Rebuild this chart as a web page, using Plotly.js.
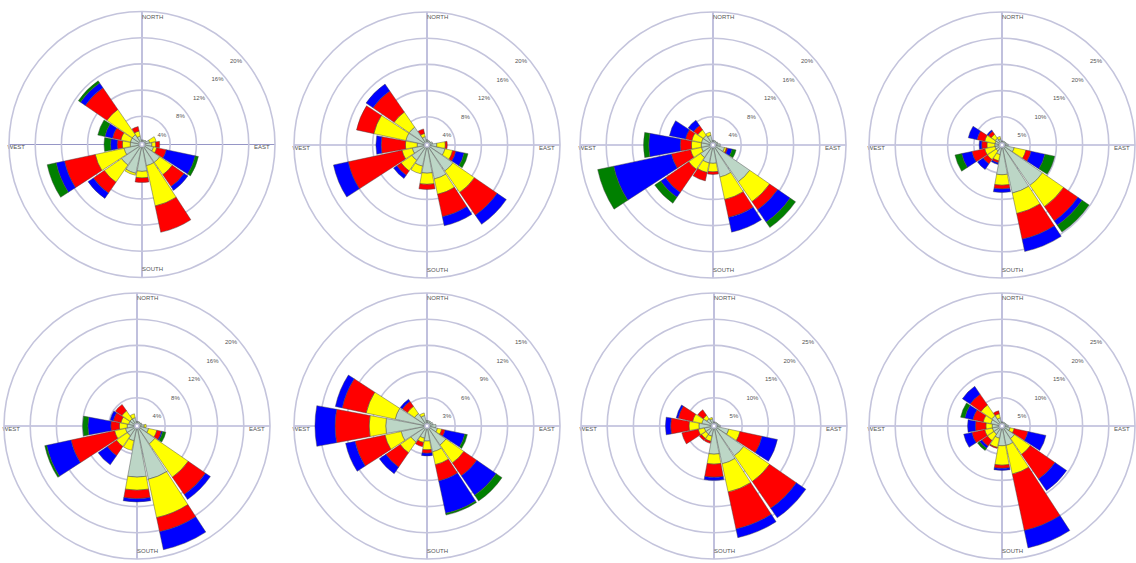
<!DOCTYPE html>
<html>
<head>
<meta charset="utf-8">
<script src="https://cdn.plot.ly/plotly-3.0.1.min.js"></script>
<style>
  html, body { margin: 0; padding: 0; background: #ffffff; }
  #chart { width: 1136px; height: 563px; }
</style>
</head>
<body>
<div id="chart"></div>
<script>
// Sixteen compass sectors, clockwise from north
const directions = ['N','NNE','NE','ENE','E','ESE','SE','SSE','S','SSW','SW','WSW','W','WNW','NW','NNW'];
const compassNames = ['NORTH', 'EAST', 'SOUTH', 'WEST'];

// Frequency (%) per sector for each speed class, one group per rose
const rose1Calm   = [0.4,0.4,0.5,0.9,1.2,1.5,3.0,3.0,3.8,4.2,3.5,2.5,1.5,1.5,1.5,1.0];
const rose1Light  = [0,0,0,1.0,0.6,0.5,2.3,6.3,1.0,0.3,3.2,4.5,1.2,1.5,4.7,0.8];
const rose1Mod    = [0,0,0,0,0.6,1.5,2.2,4.1,0.7,0,2.0,4.8,0.8,1.3,4.0,0.7];
const rose1Fresh  = [0,0,0,0,0,4.5,0.7,0,0,0,1.0,1.3,1.0,1.2,0.9,0];
const rose1Strong = [0,0,0,0,0,0.5,0,0,0,0,0,1.4,1.0,1.1,0.4,0];

const rose2Calm   = [0.5,0.4,0.4,0.6,1.2,2.5,4.5,5.0,4.0,3.0,2.5,2.0,1.2,3.0,3.0,1.0];
const rose2Light  = [0,0,0,0,1.3,1.2,4.0,2.4,1.7,1.2,2.0,1.6,1.8,5.0,2.8,0.5];
const rose2Mod    = [0,0,0,0,0.3,0.5,4.2,3.5,0.8,0,0.8,8.4,3.7,2.7,3.9,0.7];
const rose2Fresh  = [0,0,0,0,0,1.3,1.7,1.4,0,0,0.6,2.3,0.8,0,1.3,0];
const rose2Strong = [0,0,0,0,0,0.6,0,0,0,0,0,0,0,0,0,0];

const rose3Calm   = [0.4,0.4,0.4,0.5,0.8,1.5,6.5,4.7,2.5,2.5,2.0,1.5,1.5,1.5,1.5,1.2];
const rose3Light  = [0,0,0,0,0,0.3,3.7,3.5,1.3,1.5,2.2,1.7,1.5,1.5,1.0,0.5];
const rose3Mod    = [0,0,0,0,0,0.2,1.5,2.8,0.4,1.3,4.3,3.0,1.7,1.0,0.8,0];
const rose3Fresh  = [0,0,0,0,0,0.7,2.3,2.3,0,0,0.9,9.0,4.8,2.5,1.0,0];
const rose3Strong = [0,0,0,0,0,0.6,1.0,0,0,0,1.1,2.5,0.8,0,0,0];

const rose4Calm   = [0.4,0.4,0.4,0.5,0.8,2.0,9.0,9.0,5.3,1.5,1.0,1.0,1.0,1.0,1.2,0.8];
const rose4Light  = [0,0,0,0,0,2.3,4.9,4.0,2.0,1.2,2.0,2.0,1.5,2.0,0.9,0.5];
const rose4Mod    = [0,0,0,0,0,1.0,3.3,5.0,0.7,0.4,1.0,2.5,1.0,1.5,0.7,0];
const rose4Fresh  = [0,0,0,0,0,2.7,1.0,2.4,0.7,0.3,1.3,2.0,0.5,1.7,0.3,0];
const rose4Strong = [0,0,0,0,0,1.9,1.6,0,0,0,0,1.3,0,0,0,0];

const rose5Calm   = [0.4,0.4,0.4,0.5,0.8,1.5,3.0,8.0,7.5,2.0,1.5,1.5,1.2,1.0,1.0,1.0];
const rose5Light  = [0,0,0,0,0.3,1.3,6.2,6.0,2.0,1.5,2.0,1.7,1.2,1.2,1.5,0.6];
const rose5Mod    = [0,0,0,0,0,0.7,3.2,2.2,1.3,0,1.7,6.8,1.3,1.2,1.2,0];
const rose5Fresh  = [0,0,0,0,0,0.2,0.9,2.8,0.5,0,1.7,3.8,3.5,0.5,0,0];
const rose5Strong = [0,0,0,0,0,0.5,0,0,0,0,0,0.3,0.8,0,0,0];

const rose6Calm   = [0.4,0.4,0.4,0.5,0.8,1.0,2.4,2.8,1.5,1.2,2.0,2.8,4.5,3.5,1.5,1.0];
const rose6Light  = [0,0,0,0,0,0.5,2.5,1.5,1.0,0.5,1.5,1.9,1.9,3.4,1.0,0.3];
const rose6Mod    = [0,0,0,0,0,0.4,1.8,1.9,0.4,0.5,2.0,3.5,3.9,2.8,0.7,0];
const rose6Fresh  = [0,0,0,0,0,2.3,2.7,3.8,0.3,0,0.9,1.1,2.3,0.8,0.3,0];
const rose6Strong = [0,0,0,0,0,0.3,0.8,0.2,0,0,0,0,0,0,0,0];

const rose7Calm   = [0.4,0.4,0.4,0.5,0.8,2.5,6.5,7.0,5.0,1.6,1.5,1.5,2.5,2.0,1.3,1.0];
const rose7Light  = [0,0,0,0,0,2.2,6.0,5.5,1.9,1.0,1.0,1.2,1.9,1.8,0.8,0.3];
const rose7Mod    = [0,0,0,0,0,4.3,6.2,7.2,2.5,0.4,0.5,3.2,3.5,2.8,1.3,0];
const rose7Fresh  = [0,0,0,0,0,3.0,2.2,1.7,0.6,0,0,0,1.0,0.4,0,0];
const rose7Strong = [0,0,0,0,0,0,0,0,0,0,0,0,0,0,0,0];

const rose8Calm   = [0.4,0.4,0.4,0.5,0.8,1.2,2.5,3.4,3.4,2.0,1.5,1.5,1.5,1.8,2.0,1.2];
const rose8Light  = [0,0,0,0,0,0.8,3.7,5.6,3.7,1.8,1.5,1.5,1.2,1.5,2.5,0.8];
const rose8Mod    = [0,0,0,0,0,2.7,5.7,11.0,0.6,0.2,1.3,2.5,2.0,2.0,2.5,0.6];
const rose8Fresh  = [0,0,0,0,0,3.5,2.7,3.4,0.4,0,0.5,1.6,1.5,1.6,1.8,0];
const rose8Strong = [0,0,0,0,0,0,0,0,0,0,0.5,0,0,0.8,0,0];

// Ring labels of each rose
const ringTicks4  = [4, 8, 12, 16, 20];
const ringTicks3  = [3, 6, 9, 12, 15];
const ringTicks5  = [5, 10, 15, 20, 25];

const roses = [
  { series: [rose1Calm, rose1Light, rose1Mod, rose1Fresh, rose1Strong], ticks: ringTicks4 },
  { series: [rose2Calm, rose2Light, rose2Mod, rose2Fresh, rose2Strong], ticks: ringTicks4 },
  { series: [rose3Calm, rose3Light, rose3Mod, rose3Fresh, rose3Strong], ticks: ringTicks4 },
  { series: [rose4Calm, rose4Light, rose4Mod, rose4Fresh, rose4Strong], ticks: ringTicks5 },
  { series: [rose5Calm, rose5Light, rose5Mod, rose5Fresh, rose5Strong], ticks: ringTicks4 },
  { series: [rose6Calm, rose6Light, rose6Mod, rose6Fresh, rose6Strong], ticks: ringTicks3 },
  { series: [rose7Calm, rose7Light, rose7Mod, rose7Fresh, rose7Strong], ticks: ringTicks5 },
  { series: [rose8Calm, rose8Light, rose8Mod, rose8Fresh, rose8Strong], ticks: ringTicks5 }
];

// Speed-class colours, inner to outer
const classColors = ['#bcd6c6', '#ffff00', '#ff0000', '#0000ff', '#008000'];

// Subplot placement in pixels (centre x, centre y, radius)
const W = 1136, H = 563;
const centres = [
  [142, 144.5], [427, 145], [713, 145], [1002, 145],
  [137, 426], [427, 426], [714, 426], [1002, 426]
];
const R = 133;

const ringColor = '#c4c4dc';
const spokeColor = '#9696c6';
const textFont = { family: 'Liberation Sans, Arial, sans-serif', size: 6, color: '#555555' };

const data = [];
const layout = {
  width: W, height: H,
  margin: { l: 0, r: 0, t: 0, b: 0 },
  paper_bgcolor: '#ffffff',
  showlegend: false
};

roses.forEach((rose, i) => {
  const key = i === 0 ? 'polar' : 'polar' + (i + 1);
  const sub = key;
  const rmax = rose.ticks[rose.ticks.length - 1];
  const [cx, cy] = centres[i];

  rose.series.forEach((vals, k) => {
    data.push({
      type: 'barpolar',
      subplot: sub,
      theta: directions,
      r: vals,
      width: 0.93,
      marker: { color: classColors[k], line: { color: 'rgba(70,70,70,0.75)', width: 0.6 } },
      hoverinfo: 'skip'
    });
  });

  // Compass point names
  data.push({
    type: 'scatterpolar',
    subplot: sub,
    mode: 'text',
    theta: ['N', 'E', 'S', 'W'],
    r: [rmax * 0.955, rmax * 0.9, rmax * 0.94, rmax * 0.945],
    text: compassNames,
    textposition: ['middle right', 'bottom center', 'middle right', 'bottom center'],
    textfont: textFont,
    cliponaxis: false,
    hoverinfo: 'skip'
  });

  // Ring percentages along the north-east line, set just under each ring
  data.push({
    type: 'scatterpolar',
    subplot: sub,
    mode: 'text',
    theta: rose.ticks.map(() => 'NE'),
    r: rose.ticks,
    text: rose.ticks.map(v => '<br>' + v + '%'),
    textposition: 'bottom center',
    textfont: textFont,
    cliponaxis: false,
    hoverinfo: 'skip'
  });

  layout[key] = {
    domain: {
      x: [(cx - R) / W, (cx + R) / W],
      y: [(H - (cy + R)) / H, (H - (cy - R)) / H]
    },
    hole: 0.015,
    bgcolor: '#ffffff',
    barmode: 'stack',
    bargap: 0.05,
    angularaxis: {
      type: 'category',
      categoryarray: directions,
      rotation: 90,
      direction: 'clockwise',
      tickmode: 'array',
      tickvals: ['N', 'E', 'S', 'W'],
      showticklabels: false,
      ticks: '',
      showgrid: true,
      gridcolor: spokeColor,
      gridwidth: 1.2,
      showline: true,
      linecolor: ringColor,
      linewidth: 1.6
    },
    radialaxis: {
      range: [0, rmax],
      tickmode: 'array',
      tickvals: rose.ticks,
      showticklabels: false,
      showline: false,
      ticks: '',
      showgrid: true,
      gridcolor: ringColor,
      gridwidth: 1.6
    }
  };
});

Plotly.newPlot('chart', data, layout, { staticPlot: true, displayModeBar: false });
</script>
</body>
</html>
